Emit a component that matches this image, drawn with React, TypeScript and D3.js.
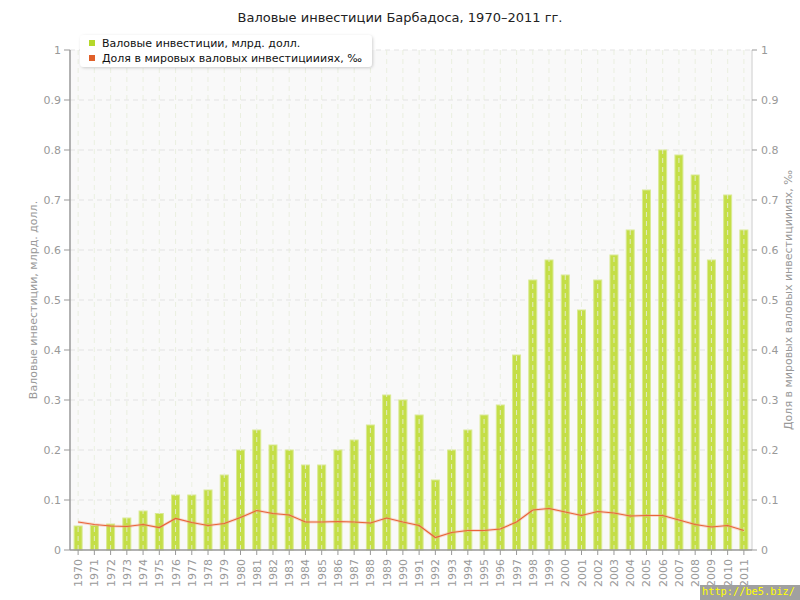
import React from 'react';
import * as d3 from 'd3';

const years = d3.range(1970, 2012).map(String);

// валовые инвестиции, млрд. долл.
const investments = [
  0.048, 0.049, 0.052, 0.064, 0.078, 0.073, 0.11, 0.11, 0.12, 0.15,
  0.2, 0.24, 0.21, 0.2, 0.17, 0.17, 0.2, 0.22, 0.25, 0.31,
  0.3, 0.27, 0.14, 0.2, 0.24, 0.27, 0.29, 0.39, 0.54, 0.58,
  0.55, 0.48, 0.54, 0.59, 0.64, 0.72, 0.8, 0.79, 0.75, 0.58,
  0.71, 0.64,
];

// доля в мировых инвестициях, ‰
const worldShare = [
  0.056, 0.051, 0.048, 0.047, 0.051, 0.045, 0.063, 0.055, 0.049, 0.053,
  0.065, 0.079, 0.073, 0.07, 0.056, 0.056, 0.057, 0.056, 0.054, 0.064,
  0.056, 0.049, 0.025, 0.035, 0.039, 0.039, 0.042, 0.056, 0.08, 0.083,
  0.076, 0.069, 0.077, 0.074, 0.068, 0.069, 0.069, 0.06, 0.051, 0.046,
  0.049, 0.039,
];

const yTicks = [0, 0.1, 0.2, 0.3, 0.4, 0.5, 0.6, 0.7, 0.8, 0.9, 1];

const W = 800;
const H = 600;
const left = 70;
const right = 752;
const top = 50;
const bottom = 550;
const font = 'DejaVu Sans, Verdana, sans-serif';

export default function App() {
  const x = d3.scaleBand<string>().domain(years).range([left, right]);
  const y = d3.scaleLinear().domain([0, 1]).range([bottom, top]);
  const y2 = d3.scaleLinear().domain([0, 1]).range([bottom, top]);
  const cx = (yr: string) => (x(yr) ?? 0) + x.bandwidth() / 2;
  const barW = 8;

  const line = d3.line<number>()
    .x((_, i) => cx(years[i]))
    .y(d => y2(d));

  const fmt = (v: number) => (v === 0 || v === 1 ? String(v) : v.toFixed(1));

  return (
    <svg width={W} height={H} style={{ position: 'absolute', left: 0, top: 0, background: '#fff' }} fontFamily={font}>
      <defs>
        <filter id="shadow" x="-10%" y="-30%" width="120%" height="170%">
          <feDropShadow dx="1" dy="1" stdDeviation="1.5" floodColor="#000" floodOpacity="0.18" />
        </filter>
      </defs>

      <text x={400} y={22} textAnchor="middle" fontSize={13} fill="#222">
        Валовые инвестиции Барбадоса, 1970–2011 гг.
      </text>

      <rect x={left} y={top} width={right - left} height={bottom - top} fill="#f9f9f9" />

      {/* horizontal grid */}
      {yTicks.slice(1).map(t => (
        <line key={'h' + t} x1={left} x2={right} y1={y(t)} y2={y(t)} stroke="#e3e3e3" strokeDasharray="5,4" />
      ))}

      {/* bars */}
      {investments.map((v, i) => (
        <rect key={'b' + i} x={cx(years[i]) - barW / 2} y={y(v)} width={barW} height={bottom - y(v)}
          fill="#c4de47" stroke="#d9ea93" strokeWidth={1} />
      ))}

      {/* vertical grid over bars */}
      {years.map(yr => (
        <line key={'v' + yr} x1={cx(yr)} x2={cx(yr)} y1={top} y2={bottom} stroke="#e8eddc" strokeOpacity={0.85} strokeDasharray="5,4" />
      ))}

      {/* line */}
      <path d={line(worldShare) ?? ''} fill="none" stroke="#f0a080" strokeWidth={3} strokeOpacity={0.35} />
      <path d={line(worldShare) ?? ''} fill="none" stroke="#e9643a" strokeWidth={1.2} />

      {/* left axis */}
      <line x1={left} x2={left} y1={top} y2={bottom} stroke="#999" strokeWidth={1.5} />
      {yTicks.map(t => (
        <g key={'l' + t}>
          <line x1={left - 6} x2={left} y1={y(t)} y2={y(t)} stroke="#999" />
          <text x={left - 9} y={y(t)} dy="0.35em" textAnchor="end" fontSize={11} fill="#999">{fmt(t)}</text>
        </g>
      ))}

      {/* right axis */}
      <line x1={right} x2={right} y1={top} y2={bottom} stroke="#ddd" strokeWidth={1.5} />
      {yTicks.map(t => (
        <g key={'r' + t}>
          <line x1={right} x2={right + 5} y1={y2(t)} y2={y2(t)} stroke="#999" />
          <text x={right + 9} y={y2(t)} dy="0.35em" textAnchor="start" fontSize={11} fill="#999">{fmt(t)}</text>
        </g>
      ))}

      {/* bottom axis */}
      <line x1={left} x2={right} y1={bottom} y2={bottom} stroke="#999" strokeWidth={1.5} />
      {years.map(yr => (
        <g key={'x' + yr}>
          <line x1={cx(yr)} x2={cx(yr)} y1={bottom} y2={bottom + 5} stroke="#999" />
          <text transform={`translate(${cx(yr) + 4},${bottom + 9}) rotate(-90)`} textAnchor="end"
            fontSize={11} fill="#999">{yr}</text>
        </g>
      ))}

      {/* axis titles */}
      <text transform={`translate(37,${(top + bottom) / 2}) rotate(-90)`} textAnchor="middle" fontSize={11} fill="#999">
        Валовые инвестиции, млрд. долл.
      </text>
      <text transform={`translate(792,${(top + bottom) / 2}) rotate(-90)`} textAnchor="middle" fontSize={11} fill="#999">
        Доля в мировых валовых инвестициииях, ‰
      </text>

      {/* legend */}
      <rect x={80} y={35} width={292} height={32} rx={4} fill="#fff" filter="url(#shadow)" />
      <rect x={89} y={40} width={6} height={6} fill="#b5d82a" />
      <text x={102} y={43} dy="0.35em" fontSize={11} fill="#111">Валовые инвестиции, млрд. долл.</text>
      <rect x={89} y={55} width={6} height={6} fill="#e0602a" />
      <text x={102} y={58} dy="0.35em" fontSize={11} fill="#111">Доля в мировых валовых инвестициииях, ‰</text>

      {/* watermark */}
      <rect x={700} y={585} width={100} height={15} fill="#a0a0a0" />
      <text x={702} y={595} fontSize={11} textLength={93} lengthAdjust="spacingAndGlyphs" fill="#ffff00"
        fontFamily="DejaVu Sans Mono, monospace">http://be5.biz/</text>
    </svg>
  );
}
